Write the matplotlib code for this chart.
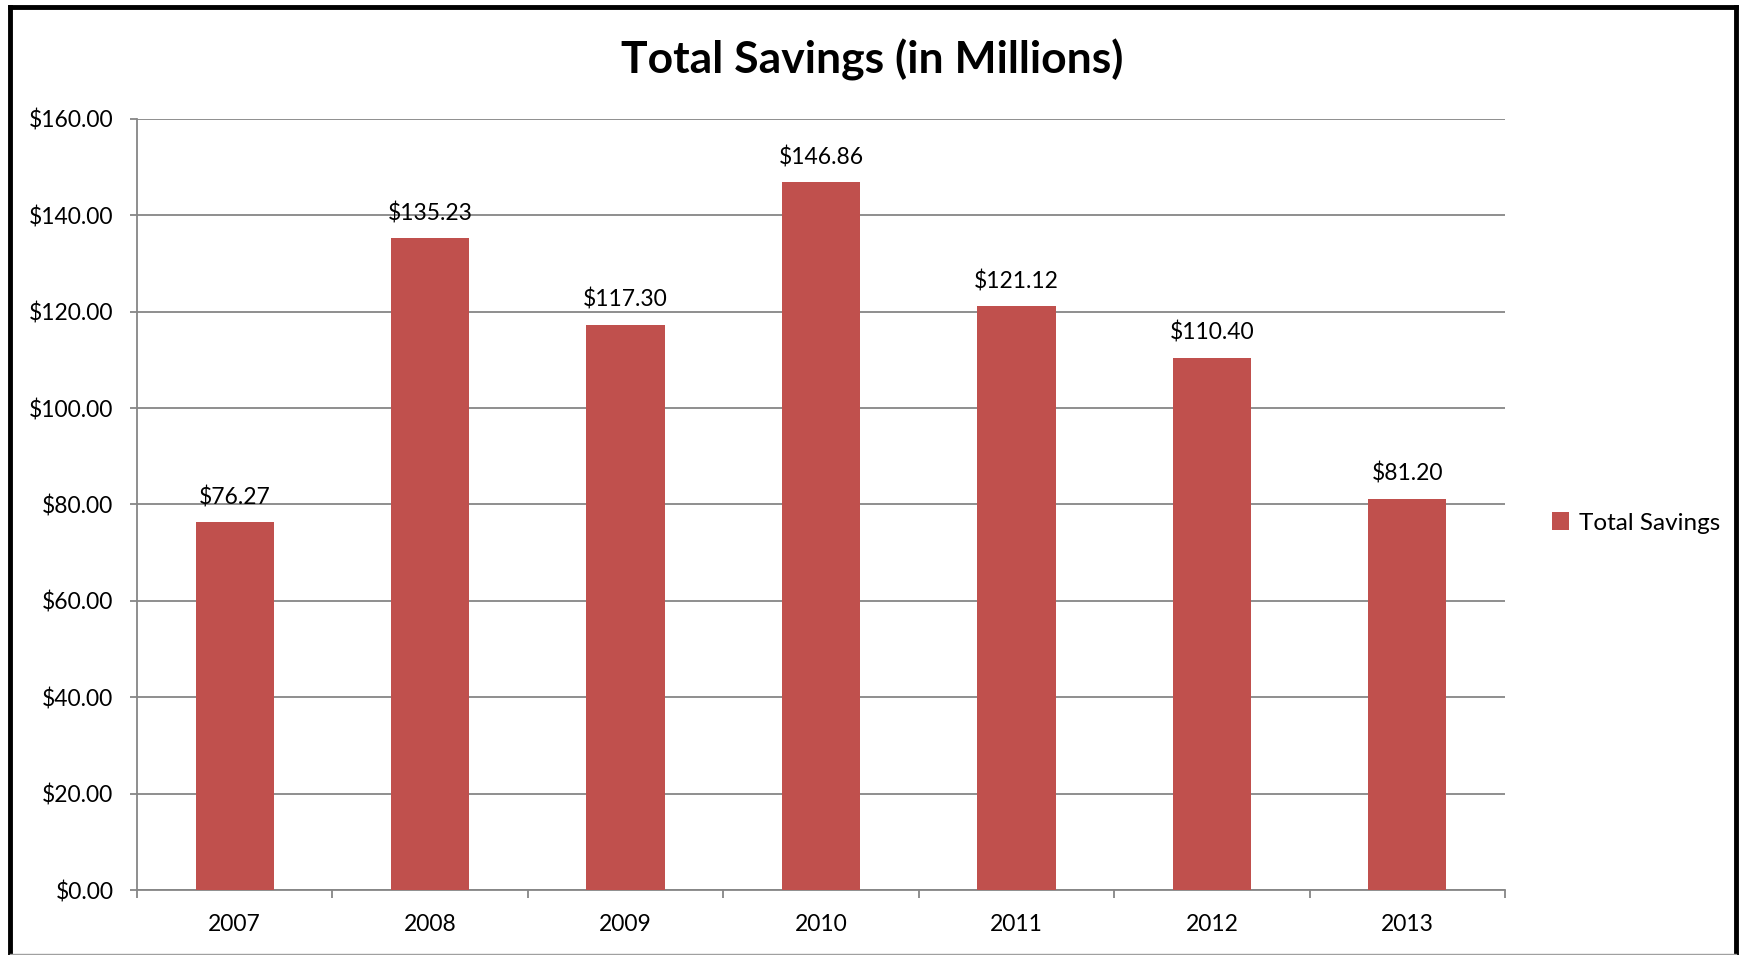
import numpy as np
import matplotlib
matplotlib.use("Agg")
import matplotlib.pyplot as plt
from matplotlib.lines import Line2D

years = ["2007", "2008", "2009", "2010", "2011", "2012", "2013"]
savings = [76.27, 135.23, 117.30, 146.86, 121.12, 110.40, 81.20]
y_ticks = [0, 20, 40, 60, 80, 100, 120, 140, 160]

plt.rcParams['font.family'] = ['Lato', 'DejaVu Sans']

W, H = 1741, 955
fig = plt.figure(figsize=(W / 100, H / 100), dpi=100)
ax = fig.add_axes([137 / W, 1 - 890 / H, (1505 - 137) / W, (890 - 119) / H])

x = np.arange(len(years))
bars = ax.bar(x, savings, width=0.4, color="#C0504D", zorder=3, label="Total Savings")

# data labels above bars
for xi, v in zip(x, savings):
    ax.annotate(f"${v:,.2f}", (xi, v), xytext=(0, 13), textcoords="offset points",
                ha="center", va="baseline", fontsize=16.5)

ax.set_xlim(-0.5, len(years) - 0.5)
ax.set_ylim(0, 160)
ax.set_yticks(y_ticks)
ax.set_yticklabels([f"${t:.2f}" for t in y_ticks])
ax.yaxis.grid(True, color="#868686", linewidth=1.3, zorder=0)

# tick marks on category boundaries, labels at the centers
ax.set_xticks(np.arange(-0.5, len(years), 1.0))
ax.set_xticklabels([])
ax.set_xticks(x, minor=True)
ax.set_xticklabels(years, minor=True)
ax.tick_params(axis="x", which="major", length=6, width=1.3, color="#868686")
ax.tick_params(axis="x", which="minor", length=0, pad=17, labelsize=16.5)
ax.tick_params(axis="y", length=5, width=1.3, color="#868686", pad=12, labelsize=16.5)

for side in ["top", "right"]:
    ax.spines[side].set_visible(False)
for side in ["left", "bottom"]:
    ax.spines[side].set_color("#868686")
    ax.spines[side].set_linewidth(1.3)

fig.text(872 / W, 1 - 60 / H, "Total Savings (in Millions)", ha="center", va="center",
         fontsize=32, fontweight="bold")

fig.legend(handles=[bars], loc="center left", bbox_to_anchor=(1530 / W, 1 - 523 / H),
           frameon=False, fontsize=17.5, handlelength=0.7, handleheight=0.7, handletextpad=0.4)

# outer chart border
lw = 3.5
fig.add_artist(Line2D([10 / W, 10 / W], [0, 1 - 7 / H], color="black", linewidth=lw, transform=fig.transFigure))
fig.add_artist(Line2D([10 / W, 1736 / W], [1 - 7 / H, 1 - 7 / H], color="black", linewidth=lw, transform=fig.transFigure))
fig.add_artist(Line2D([1736 / W, 1736 / W], [0, 1 - 7 / H], color="black", linewidth=lw, transform=fig.transFigure))
fig.add_artist(Line2D([10 / W, 1736 / W], [1.5 / H, 1.5 / H], color="#a0a0a0", linewidth=1, transform=fig.transFigure))

fig.savefig("out.png", dpi=100)
